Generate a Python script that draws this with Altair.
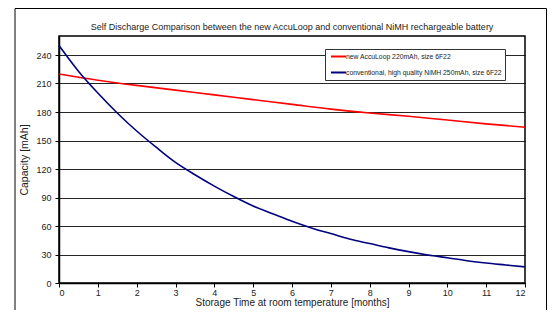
import altair as alt
import pandas as pd

# Data
months_red = list(range(13))
capacity_red = [220, 213.5, 208, 203, 198, 193, 188, 183, 179, 175.5, 171.5, 167.5, 164]

months_blue = [0, 0.5, 1, 1.5, 2, 2.5, 3, 3.5, 4, 4.5, 5, 5.5, 6, 6.5, 7, 7.5, 8,
               8.5, 9, 9.5, 10, 10.5, 11, 11.5, 12]
capacity_blue = [250, 223, 200, 179, 160, 143, 127, 114, 102, 91, 81, 73, 65, 58, 52,
                 46, 41.5, 37, 33, 29.5, 26.5, 23.5, 21, 19, 17]

series_names = ["new AccuLoop 220mAh, size 6F22",
                "conventional, high quality NiMH 250mAh, size 6F22"]
series_colors = ["#FF0000", "#000080"]

x_ticks = list(range(13))
y_ticks = [0, 30, 60, 90, 120, 150, 180, 210, 240]

title_text = ("Self Discharge Comparison between the new AccuLoop and "
              "conventional NiMH rechargeable battery")

FONT = "Liberation Sans"

df = pd.concat([
    pd.DataFrame({"month": months_red, "cap": capacity_red, "series": series_names[0]}),
    pd.DataFrame({"month": months_blue, "cap": capacity_blue, "series": series_names[1]}),
], ignore_index=True)

lines = alt.Chart(df).mark_line(strokeWidth=1.6, interpolate="monotone").encode(
    x=alt.X("month:Q", scale=alt.Scale(domain=[0, 12], nice=False),
            axis=alt.Axis(values=x_ticks, title="Storage Time at room temperature [months]",
                          grid=False, format="d")),
    y=alt.Y("cap:Q", scale=alt.Scale(domain=[0, 260], nice=False),
            axis=alt.Axis(values=y_ticks, title="Capacity [mAh]", grid=True, format="d")),
    color=alt.Color("series:N",
                    scale=alt.Scale(domain=series_names, range=series_colors),
                    legend=alt.Legend(title=None, orient="none", legendX=266, legendY=13,
                                      symbolType="M-2.143,0H2.143", symbolSize=49,
                                      symbolStrokeWidth=2, symbolOffset=6,
                                      labelFontSize=6.8,
                                      labelFont=FONT, labelColor="#222",
                                      labelOffset=3, rowPadding=7,
                                      padding=3, strokeColor="#333",
                                      fillColor="#FFFFFF")),
)

border = alt.Chart(pd.DataFrame({"k": [0]})).mark_rect(
    fill=None, stroke="#000", strokeWidth=1
).encode(x=alt.value(-44), x2=alt.value(487.5), y=alt.value(-27.5), y2=alt.value(300))

chart = alt.layer(border, lines).properties(
    width=466, height=247,
    title=alt.TitleParams(title_text, fontSize=9, font=FONT, fontWeight="normal",
                          color="#222", anchor="middle", offset=-23.5),
    autosize=alt.AutoSizeParams(type="none"),
    padding={"left": 51, "top": 28, "right": 22, "bottom": 27},
).configure_view(
    stroke="#000", strokeWidth=1.5
).configure_axis(
    labelFont=FONT, titleFont=FONT, labelFontSize=9, titleFontSize=10.5,
    titleFontWeight="normal", labelColor="#222", titleColor="#222",
    domainColor="#000", domainWidth=1.5, tickColor="#000", tickSize=4,
    gridColor="#000", gridWidth=1, gridOpacity=0.85
).configure_axisX(
    labelPadding=1, titlePadding=0, titleFontSize=10
).configure_axisY(
    labelPadding=4, titlePadding=6
)

chart.save("out.html", embed_options={"renderer": "svg", "actions": False})
